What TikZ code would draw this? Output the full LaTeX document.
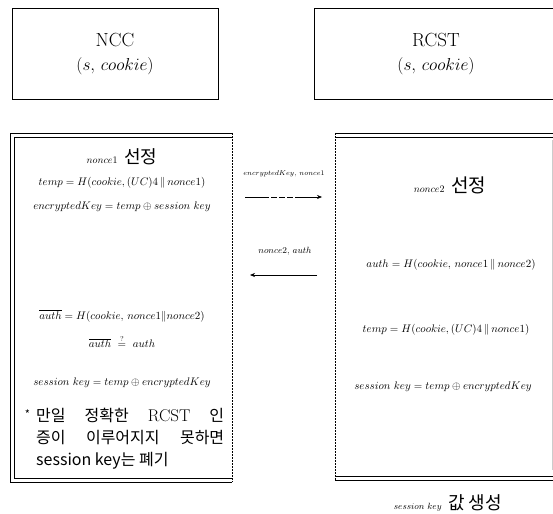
\documentclass[tikz,border=0pt]{standalone}
\usepackage{fontspec}
\newfontfamily\kor{Noto Sans CJK KR}
\usetikzlibrary{arrows.meta}
\tikzset{
  ent/.style={draw, line width=1pt, minimum width=206pt, minimum height=91pt, align=center, font=\fontsize{19}{24}\selectfont},
  eqn/.style={inner sep=1pt, font=\fontsize{10.5}{12}\selectfont},
  rim/.style={line width=0.8pt},
  side/.style={dash pattern=on 2pt off 1pt, line width=0.6pt},
  msg/.style={-{Stealth[length=5pt,width=4pt]}, line width=0.6pt}
}
\begin{document}
\begin{tikzpicture}[x=1pt,y=-1pt]
\useasboundingbox (0,0) rectangle (553,513);
% the two parties
\node[ent] (ncc) at (115,54.5) {NCC\\$(s,\,cookie)$};
\node[ent, minimum width=244pt] (rcst) at (436,54.5) {RCST\\$(s,\,cookie)$};
% left side: NCC (double rim, dashed right side)
\draw[rim] (232,133) -- (10,133) -- (10,482) -- (232,482);
\draw[rim] (232,137) -- (14,137) -- (14,478) -- (232,478);
\draw[side] (232,133) -- (232,482);
% right side: RCST
\draw[rim] (335,133) -- (553,133);
\draw[rim] (335,137) -- (553,137);
\draw[rim] (335,476) -- (553,476);
\draw[rim] (335,480) -- (553,480);
\draw[side] (335,133) -- (335,480);
\draw[gray!40] (552,140) -- (552,470);
% NCC steps
\node (n1) at (122,157) {{\fontsize{10}{12}\selectfont$nonce1$}\ \ {\kor\fontsize{18}{21}\selectfont 선정}};
\node[eqn] (t1) at (122,183) {$temp = H(cookie,(UC)4 \,\|\, nonce1)$};
\node[eqn] (k1) at (122,207) {$encryptedKey = temp \oplus session\ key$};
\node[eqn] (a1) at (122,316) {$\overline{auth} = H(cookie,\, nonce1 \| nonce2)$};
\node[eqn] (v1) at (122,342) {$\overline{auth}\ \stackrel{?}{=}\ auth$};
\node[eqn] (s1) at (122,383) {$session\ key = temp \oplus encryptedKey$};
\node[anchor=west, inner sep=0pt, font=\kor\fontsize{16}{19}\selectfont] (w1) at (36,415)
  {\llap{\raisebox{3pt}{\fontsize{11}{12}\selectfont *}\ \,}\makebox[188pt][s]{만일 정확한 {\rmfamily\fontsize{17}{19}\selectfont RCST} 인}};
\node[anchor=west, inner sep=0pt, font=\kor\fontsize{16}{19}\selectfont] (w2) at (36,438)
  {\makebox[188pt][s]{증이 이루어지지 못하면}};
\node[anchor=west, inner sep=0pt, font=\kor\fontsize{16}{19}\selectfont] (w3) at (36,461)
  {session key는 폐기};
% messages
\node[font=\fontsize{7.5}{8}\selectfont] (m1) at (284,174) {$encryptedKey,\, nonce1$};
\coordinate (m1s) at (245,197);
\coordinate (m1e) at (322,197);
\draw[msg, dash pattern=on 24pt off 2pt on 6pt off 2pt on 6pt off 2pt on 6pt off 2pt on 40pt] (m1s) -- (m1e);
\node[font=\fontsize{9.5}{10}\selectfont] (m2) at (285,251) {$nonce2,\, auth$};
\coordinate (m2s) at (317,275);
\coordinate (m2e) at (250,275);
\draw[msg] (m2s) -- (m2e);
% RCST steps
\node (n2) at (450,185) {{\fontsize{10}{12}\selectfont$nonce2$}\ \ {\kor\fontsize{19}{22}\selectfont 선정}};
\node[eqn] (a2) at (451,265) {$auth = H(cookie,\, nonce1 \,\|\, nonce2)$};
\node[eqn] (t2) at (446,330) {$temp = H(cookie,(UC)4 \,\|\, nonce1)$};
\node[eqn] (s2) at (443,387) {$session\ key = temp \oplus encryptedKey$};
\node (g2) at (448,503) {{\fontsize{9}{10}\selectfont$session\ key$}\ \ {\kor\fontsize{18}{20}\selectfont 값 생성}};
\end{tikzpicture}
\end{document}
